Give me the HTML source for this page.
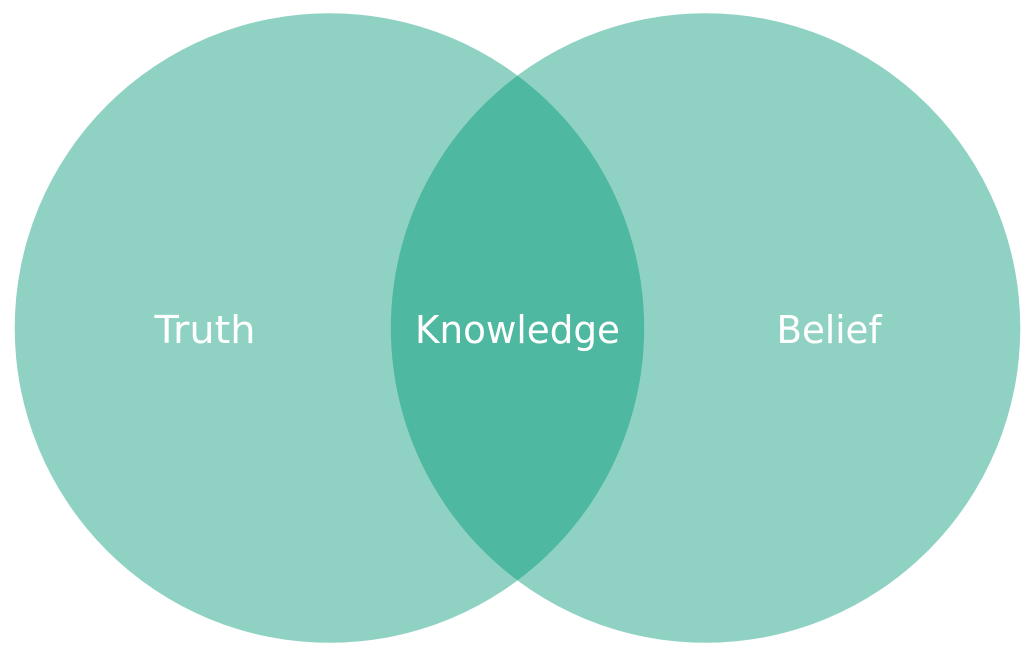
<!DOCTYPE html>
<html>
<head>
<meta charset="utf-8">
<style>
html,body{margin:0;padding:0;background:#fff;width:1034px;height:659px;overflow:hidden}
svg{display:block}
text{font-family:"DejaVu Sans","Liberation Sans",sans-serif;font-size:38.5px;fill:#fff;text-anchor:middle}
</style>
</head>
<body>
<svg width="1034" height="659" viewBox="0 0 1034 659" xmlns="http://www.w3.org/2000/svg">
<circle cx="329.5" cy="328" r="314.8" fill="#8fd2c3"/>
<circle cx="705.5" cy="328" r="314.8" fill="#8fd2c3"/>
<path d="M517.5 75.6A314.8 314.8 0 0 1 517.5 580.4A314.8 314.8 0 0 1 517.5 75.6Z" fill="#4fb8a0"/>
<text x="205" y="343" textLength="101" lengthAdjust="spacingAndGlyphs">Truth</text>
<text x="517.5" y="343" textLength="205" lengthAdjust="spacingAndGlyphs">Knowledge</text>
<text x="829" y="343" textLength="105" lengthAdjust="spacingAndGlyphs">Belief</text>
</svg>
</body>
</html>
